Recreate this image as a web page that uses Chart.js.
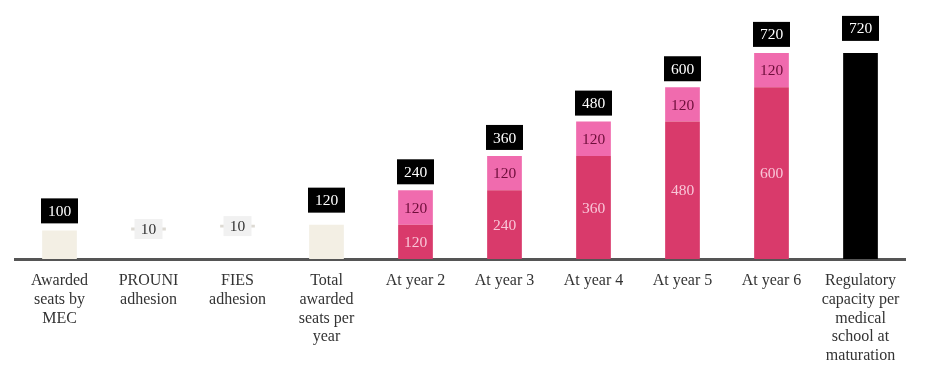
<!DOCTYPE html>
<html>
<head>
<meta charset="utf-8">
<script src="https://cdn.jsdelivr.net/npm/chart.js@4"></script>
<style>
  html, body { margin: 0; padding: 0; background: #ffffff; }
  #wrap { width: 925px; height: 372px; }
</style>
</head>
<body>
<div id="wrap"><canvas id="c" width="925" height="372"></canvas></div>
<script>
// ---- data ----
const categories = [
  ["Awarded", "seats by", "MEC"],
  ["PROUNI", "adhesion"],
  ["FIES", "adhesion"],
  ["Total", "awarded", "seats per", "year"],
  "At year 2", "At year 3", "At year 4", "At year 5", "At year 6",
  ["Regulatory", "capacity per", "medical", "school at", "maturation"]
];
const seatSteps = [100, 10, 10];          // MEC award, PROUNI, FIES
const totalPerYear = 120;
const priorCohorts = [120, 240, 360, 480, 600]; // years 2..6, existing students
const newIntake = [120, 120, 120, 120, 120];    // years 2..6, new cohort
const regulatoryCapacity = 720;

// ---- build floating bar data ----
const n = categories.length;
const empty = () => new Array(n).fill(null);

const seedData = empty();
let run = 0;
seatSteps.forEach((v, i) => {
  seedData[i] = i === 0 ? [0, v] : [run, run + v];
  run += v;
});
seedData[3] = [0, totalPerYear];

const priorData = empty();
const intakeData = empty();
priorCohorts.forEach((v, i) => {
  priorData[4 + i] = [0, v];
  intakeData[4 + i] = [v, v + newIntake[i]];
});
const capacityData = empty();
capacityData[n - 1] = [0, regulatoryCapacity];

const BEIGE = '#F3EFE4';
const STEP = '#DDDAD3';
const seedColors = seedData.map((d, i) => (i === 1 || i === 2) ? STEP : BEIGE);

const FONT = "'Liberation Serif', 'Times New Roman', serif";

// label drawing plugin
const labelPlugin = {
  id: 'labels',
  afterDatasetsDraw(chart) {
    const ctx = chart.ctx;
    ctx.save();
    ctx.textAlign = 'center';
    ctx.textBaseline = 'middle';
    ctx.font = '15.5px ' + FONT;

    const blackBox = (x, topY, text, gap) => {
      const w = 37, h = 25;
      const by = topY - gap - h;
      ctx.fillStyle = '#000000';
      ctx.fillRect(x - w / 2, by, w, h);
      ctx.fillStyle = '#ffffff';
      ctx.fillText(text, x, by + h / 2 + 1);
    };

    chart.data.datasets.forEach((ds, di) => {
      const meta = chart.getDatasetMeta(di);
      meta.data.forEach((el, i) => {
        const raw = ds.data[i];
        if (!raw) return;
        const val = raw[1] - raw[0];
        const top = Math.min(el.y, el.base);
        const bottom = Math.max(el.y, el.base);
        const mid = (top + bottom) / 2;
        if (ds.role === 'seed') {
          if (i === 1 || i === 2) {
            const w = 28, h = 20;
            ctx.fillStyle = '#F1F1F1';
            ctx.fillRect(el.x - w / 2, mid - h / 2, w, h);
            ctx.fillStyle = '#333333';
            ctx.fillText(String(val), el.x, mid + 1);
          } else {
            blackBox(el.x, top, String(raw[1]), i === 3 ? 12 : 7);
          }
        } else if (ds.role === 'prior') {
          ctx.fillStyle = '#F9C6D8';
          ctx.fillText(String(val), el.x, mid + 1);
        } else if (ds.role === 'intake') {
          ctx.fillStyle = '#6E0E3A';
          ctx.fillText(String(val), el.x, mid + 1);
          blackBox(el.x, top, String(raw[1]), 6);
        } else if (ds.role === 'capacity') {
          blackBox(el.x, top, String(raw[1]), 12);
        }
      });
    });
    ctx.restore();
  }
};

new Chart(document.getElementById('c'), {
  type: 'bar',
  data: {
    labels: categories,
    datasets: [
      { role: 'seed', data: seedData, backgroundColor: seedColors, grouped: false },
      { role: 'prior', data: priorData, backgroundColor: '#D93A6B', grouped: false },
      { role: 'intake', data: intakeData, backgroundColor: '#F06BAE', grouped: false },
      { role: 'capacity', data: capacityData, backgroundColor: '#000000', grouped: false }
    ]
  },
  options: {
    responsive: false,
    devicePixelRatio: 1,
    animation: false,
    barPercentage: 0.39,
    categoryPercentage: 1.0,
    layout: { padding: { top: 30, left: 15, right: 20, bottom: 0 } },
    plugins: {
      legend: { display: false },
      tooltip: { enabled: false }
    },
    scales: {
      x: {
        offset: true,
        grid: { display: false, drawTicks: false },
        border: { display: true, color: '#555555', width: 3 },
        ticks: {
          color: '#333333',
          font: { family: FONT, size: 16, lineHeight: 1.16 },
          padding: 13,
          maxRotation: 0,
          autoSkip: false
        },
        afterFit(scale) { scale.height = 113; }
      },
      y: {
        display: false,
        min: 0,
        max: 800
      }
    }
  },
  plugins: [labelPlugin]
});
</script>
</body>
</html>
